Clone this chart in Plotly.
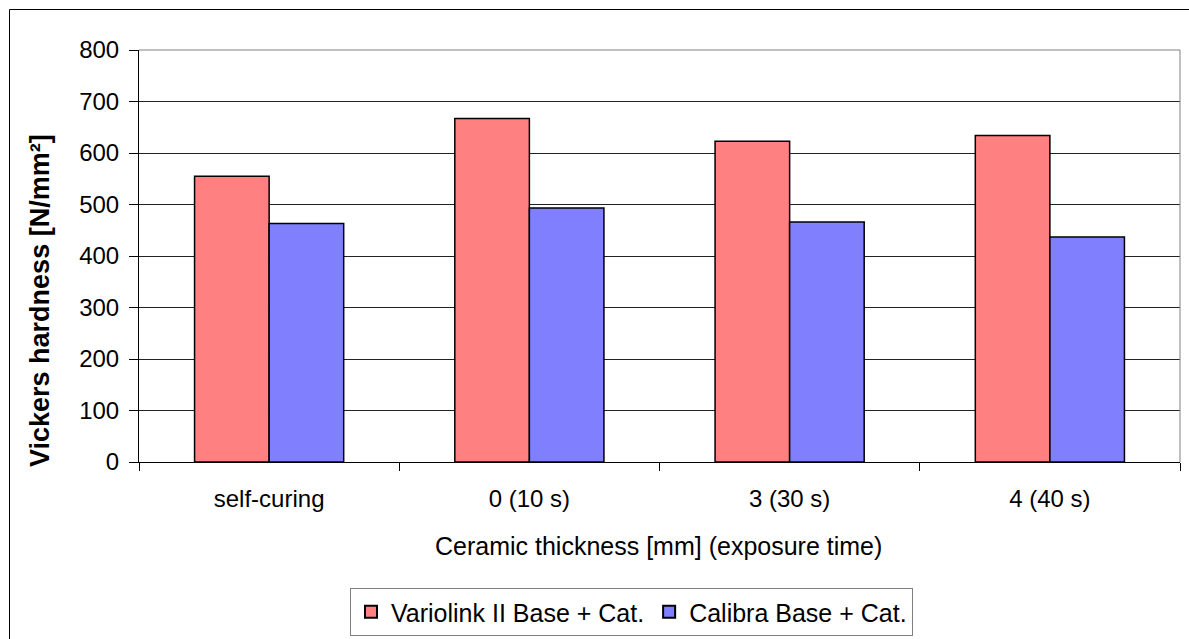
import plotly.graph_objects as go

categories = ["self-curing", "0 (10 s)", "3 (30 s)", "4 (40 s)"]
variolink = [555, 667, 623, 634]
calibra = [463, 493, 466, 437]
series_names = ["Variolink II Base + Cat.", "Calibra Base + Cat."]
y_ticks = [0, 100, 200, 300, 400, 500, 600, 700, 800]

W, H = 1189, 639
L, R, T, B = 139, 1180, 50, 462  # plot area in px

def px_x(px):
    return (px - L) / (R - L)

def px_y(py):
    return (B - py) / (B - T)

FONT = "Liberation Sans, Arial, sans-serif"

fig = go.Figure()
fig.add_trace(go.Bar(
    x=categories, y=variolink, name=series_names[0],
    marker=dict(color="#FF8080", line=dict(color="#000000", width=1.5)),
))
fig.add_trace(go.Bar(
    x=categories, y=calibra, name=series_names[1],
    marker=dict(color="#8080FF", line=dict(color="#000000", width=1.5)),
))

fig.update_layout(
    width=W, height=H, autosize=False,
    margin=dict(l=L, r=W - R, t=T, b=H - B, pad=0, autoexpand=False),
    paper_bgcolor="#FFFFFF", plot_bgcolor="#FFFFFF",
    font=dict(family=FONT, size=24, color="#000000"),
    barmode="group", bargap=0.427, bargroupgap=0,
    showlegend=True,
    legend=dict(
        orientation="h",
        x=px_x(350), xanchor="left",
        y=px_y(588), yanchor="top",
        bordercolor="#808080", borderwidth=1,
        bgcolor="#FFFFFF",
        font=dict(family=FONT, size=25, color="#000000"),
        itemsizing="constant",
    ),
    xaxis=dict(
        type="category",
        showgrid=False,
        showline=True, linecolor="#000000", linewidth=1,
        ticks="outside", tickson="boundaries", ticklen=8,
        tickcolor="#000000", tickwidth=1,
        ticklabelstandoff=15,
        tickfont=dict(family=FONT, size=24, color="#000000"),
        range=[-0.5, 3.5],
        fixedrange=True,
    ),
    yaxis=dict(
        range=[0, 800],
        tickvals=y_ticks,
        showgrid=True, gridcolor="#222222", gridwidth=1,
        showline=True, linecolor="#000000", linewidth=1,
        ticks="outside", ticklen=9, tickcolor="#000000", tickwidth=1,
        ticklabelstandoff=5,
        tickfont=dict(family=FONT, size=24, color="#000000"),
        zeroline=False,
        fixedrange=True,
    ),
    annotations=[
        dict(
            text="Vickers hardness [N/mm²]",
            xref="paper", yref="paper",
            x=px_x(40), y=px_y(301),
            xanchor="center", yanchor="middle",
            textangle=-90, showarrow=False,
            font=dict(family=FONT, size=27, color="#000000", weight="bold"),
        ),
        dict(
            text="Ceramic thickness [mm] (exposure time)",
            xref="paper", yref="paper",
            x=px_x(658), y=px_y(546),
            xanchor="center", yanchor="middle",
            showarrow=False,
            font=dict(family=FONT, size=25, color="#000000"),
        ),
    ],
    shapes=[
        # plot area right border and top
        dict(type="line", xref="paper", yref="paper", x0=1, x1=1, y0=0, y1=1,
             line=dict(color="#808080", width=1)),
        dict(type="line", xref="paper", yref="paper", x0=0, x1=1, y0=1, y1=1,
             line=dict(color="#808080", width=1)),
        # outer chart frame (left and top visible)
        dict(type="line", xref="paper", yref="paper",
             x0=px_x(9.5), x1=px_x(9.5), y0=px_y(9.5), y1=px_y(700),
             line=dict(color="#000000", width=1)),
        dict(type="line", xref="paper", yref="paper",
             x0=px_x(9.5), x1=px_x(1250), y0=px_y(9.5), y1=px_y(9.5),
             line=dict(color="#000000", width=1)),
    ],
)

fig.write_html("out.html")
